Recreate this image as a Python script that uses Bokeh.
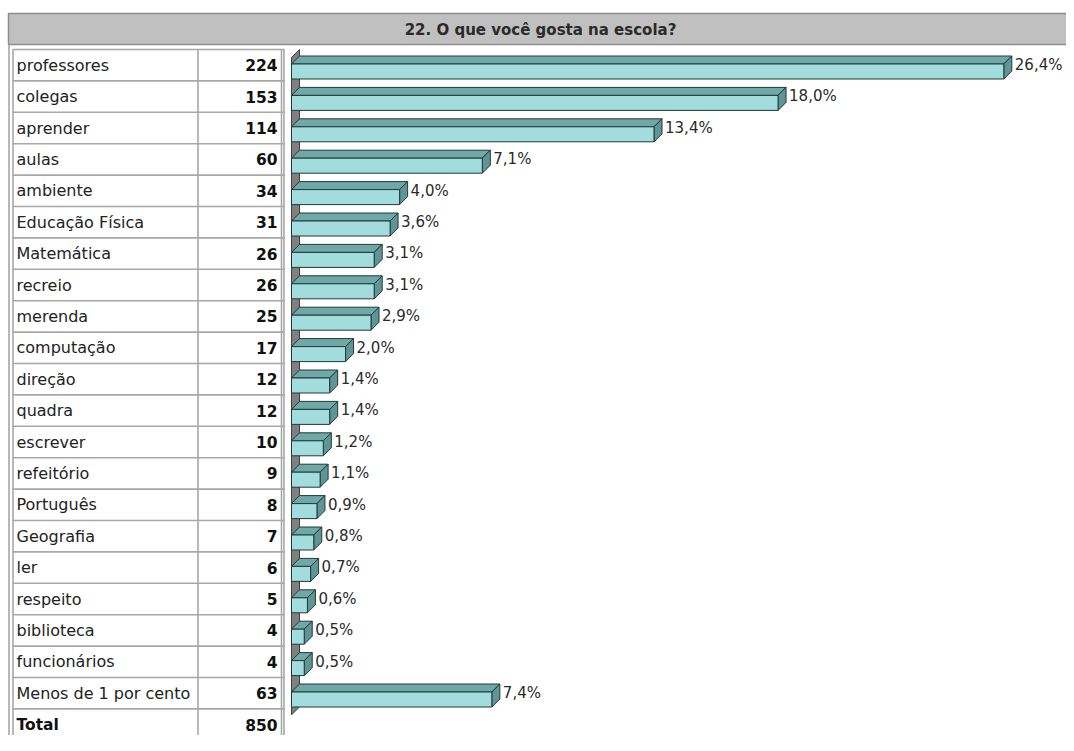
from bokeh.plotting import figure
from bokeh.models import Range1d
from bokeh.core.properties import value
from bokeh.embed import file_html
from bokeh.resources import INLINE

# ---------------- data ----------------
title_text = "22. O que você gosta na escola?"
categories = ["professores", "colegas", "aprender", "aulas", "ambiente",
              "Educação Física", "Matemática", "recreio", "merenda",
              "computação", "direção", "quadra", "escrever", "refeitório",
              "Português", "Geografia", "ler", "respeito", "biblioteca",
              "funcionários", "Menos de 1 por cento"]
counts = [224, 153, 114, 60, 34, 31, 26, 26, 25, 17, 12, 12, 10, 9, 8, 7,
          6, 5, 4, 4, 63]
pct_labels = ["26,4%", "18,0%", "13,4%", "7,1%", "4,0%", "3,6%", "3,1%",
              "3,1%", "2,9%", "2,0%", "1,4%", "1,4%", "1,2%", "1,1%", "0,9%",
              "0,8%", "0,7%", "0,6%", "0,5%", "0,5%", "7,4%"]
total_label = "Total"
total_value = 850

# ---------------- layout constants ----------------
W, H = 1066, 735
K = 3.18           # px per count unit
ZERO_PX = 291      # frame px of value 0
ROWH = 31.4        # px per table row
TOP_PX = 49        # frame px of first table row top
DEPTH = 8          # 3D depth px
FONT = value("DejaVu Sans")

DX = DEPTH / K
DY = DEPTH / ROWH
FT = 14.5 / ROWH
FH = 15 / ROWH

p = figure(width=W, height=H, output_backend="svg", toolbar_location=None,
           x_range=Range1d(0, W), y_range=Range1d(H, 0),
           x_axis_type=None, y_axis_type=None, min_border=0,
           background_fill_color="white", border_fill_color="white")
p.outline_line_color = None
p.grid.visible = False
p.extra_x_ranges = {"val": Range1d(-ZERO_PX / K, (W - ZERO_PX) / K)}
p.extra_y_ranges = {"row": Range1d((H - TOP_PX) / ROWH, -TOP_PX / ROWH)}

n = len(categories)
nrows = n + 1

# ---------------- title bar ----------------
p.quad(left=8, right=W + 5, top=13, bottom=44, fill_color="#c0c0c0",
       line_color="#8c8c8c", line_width=1.5)
p.text(x=[540], y=[29], text=[title_text], text_font=FONT,
       text_font_size="15px", text_font_style="bold", text_color="#2a2a2a",
       text_align="center", text_baseline="middle")

# outer container line
p.segment(x0=[8.5], x1=[8.5], y0=[44], y1=[H], line_color="#a0a0a0",
          line_width=1.5)

# ---------------- table ----------------
rows_y = [float(i) for i in range(nrows + 1)]
p.segment(x0=[12] * len(rows_y), x1=[284] * len(rows_y), y0=rows_y, y1=rows_y,
          y_range_name="row", line_color="#a8a8a8", line_width=1.6)
for xv in [12.5, 197.5, 281, 283.5]:
    p.segment(x0=[xv], x1=[xv], y0=[0], y1=[nrows + 1], y_range_name="row",
              line_color="#a8a8a8", line_width=1.6)

ys = [i + 0.5 for i in range(n)]
p.text(x=[16] * n, y=ys, text=categories, y_range_name="row", text_font=FONT,
       text_font_size="16px", text_color="#222222", text_align="left",
       text_baseline="middle")
p.text(x=[277] * n, y=ys, text=[str(c) for c in counts], y_range_name="row",
       text_font=FONT, text_font_size="15.5px", text_font_style="bold",
       text_color="#111111", text_align="right", text_baseline="middle")
p.text(x=[16], y=[n + 0.5], text=[total_label], y_range_name="row",
       text_font=FONT, text_font_size="15.5px", text_font_style="bold",
       text_color="#111111", text_align="left", text_baseline="middle")
p.text(x=[277], y=[n + 0.5], text=[str(total_value)], y_range_name="row",
       text_font=FONT, text_font_size="15.5px", text_font_style="bold",
       text_color="#111111", text_align="right", text_baseline="middle")

# ---------------- wall ----------------
wall_bottom = n + 6 / ROWH
p.patch(x=[0, DX, DX, 0], y=[DY, 0, wall_bottom - DY, wall_bottom],
        x_range_name="val", y_range_name="row", fill_color="#808080",
        line_color="#404040", line_width=1)

# ---------------- bars ----------------
top_xs, top_ys, side_xs, side_ys = [], [], [], []
fl, fr, ftp, fb = [], [], [], []
for i, v in enumerate(counts):
    yt = i + FT
    yb = yt + FH
    top_xs.append([0, DX, v + DX, v])
    top_ys.append([yt, yt - DY, yt - DY, yt])
    side_xs.append([v, v + DX, v + DX, v])
    side_ys.append([yt, yt - DY, yb - DY, yb])
    fl.append(0); fr.append(v); ftp.append(yt); fb.append(yb)

p.patches(xs=top_xs, ys=top_ys, x_range_name="val", y_range_name="row",
          fill_color="#70a7a7", line_color="#1f3a3a", line_width=1)
p.patches(xs=side_xs, ys=side_ys, x_range_name="val", y_range_name="row",
          fill_color="#5f9595", line_color="#1f3a3a", line_width=1)
p.quad(left=fl, right=fr, top=ftp, bottom=fb, x_range_name="val",
       y_range_name="row", fill_color="#a3dcdc", line_color="#1f3a3a",
       line_width=1)

p.text(x=[v + DX + 3 / K for v in counts], y=[i + FT + 1 / ROWH for i in range(n)],
       text=pct_labels, x_range_name="val", y_range_name="row", text_font=FONT,
       text_font_size="15px", text_color="#2a2a2a", text_align="left",
       text_baseline="middle")

open("out.html", "w").write(file_html(p, INLINE))
